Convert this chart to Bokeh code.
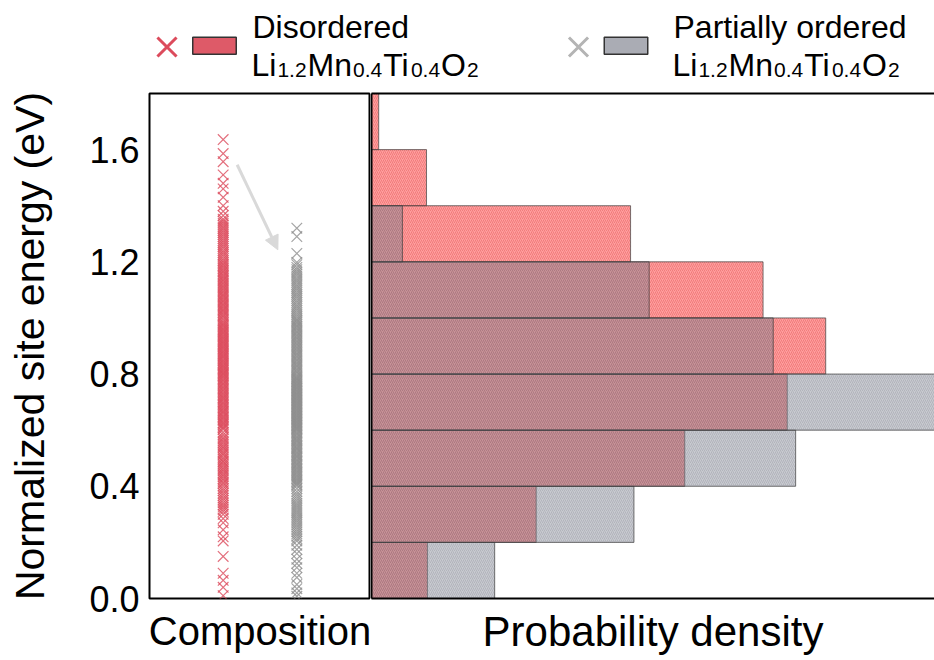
from bokeh.plotting import figure
from bokeh.models import Range1d, FixedTicker, LinearAxis, Arrow, NormalHead, NumeralTickFormatter, Label
from bokeh.layouts import column, row
from bokeh.embed import file_html
from bokeh.resources import INLINE

FONT = "Liberation Sans"

# ---------------- data ----------------
bin_edges = [0.0, 0.2, 0.4, 0.6, 0.8, 1.0, 1.2, 1.4, 1.6, 1.8]
disordered_density = [0.132, 0.389, 0.740, 0.982, 1.073, 0.925, 0.612, 0.130, 0.017]
ordered_density = [0.291, 0.620, 1.002, 1.330, 0.949, 0.656, 0.073, 0.0, 0.0]

disordered_energy = [
    0.01, 0.04, 0.065, 0.09, 0.15,
    0.205, 0.22, 0.245, 0.27, 0.285, 0.30, 0.31, 0.318, 0.326, 0.333, 0.341, 0.35, 0.358, 0.367, 0.375, 0.384, 0.392,
    0.401, 0.409, 0.414, 0.422, 0.428, 0.435, 0.441, 0.447, 0.454, 0.46, 0.466, 0.473, 0.479, 0.486, 0.49, 0.497,
    0.503, 0.511, 0.516, 0.522, 0.529, 0.536, 0.541, 0.548, 0.555, 0.561, 0.568, 0.574, 0.583, 0.592,
    0.603, 0.608, 0.613, 0.619, 0.624, 0.628, 0.634, 0.639, 0.645, 0.649, 0.655, 0.661, 0.666, 0.67, 0.676, 0.681,
    0.687, 0.692, 0.697, 0.702, 0.708, 0.713, 0.717, 0.723, 0.728, 0.733, 0.739, 0.744, 0.749, 0.754, 0.76, 0.765,
    0.769, 0.775, 0.78, 0.785, 0.79, 0.794, 0.799,
    0.802, 0.806, 0.811, 0.815, 0.82, 0.824, 0.829, 0.833, 0.838, 0.842, 0.847, 0.851, 0.856, 0.861, 0.865, 0.87,
    0.874, 0.879, 0.883, 0.888, 0.892, 0.897, 0.901, 0.906, 0.91, 0.915, 0.919, 0.924, 0.928, 0.933, 0.937, 0.942,
    0.947, 0.951, 0.956, 0.96, 0.965, 0.97, 0.974, 0.979, 0.984, 0.99, 0.996,
    1.003, 1.008, 1.013, 1.019, 1.024, 1.029, 1.034, 1.04, 1.045, 1.05, 1.056, 1.061, 1.066, 1.072, 1.077, 1.082,
    1.087, 1.093, 1.098, 1.104, 1.109, 1.114, 1.12, 1.125, 1.131, 1.136, 1.141, 1.147, 1.152, 1.158, 1.164, 1.169,
    1.175, 1.181, 1.187, 1.192, 1.198,
    1.204, 1.211, 1.219, 1.226, 1.233, 1.24, 1.248, 1.255, 1.262, 1.269, 1.276, 1.283, 1.29, 1.297, 1.304, 1.311,
    1.318, 1.324, 1.331, 1.338, 1.345, 1.352, 1.365, 1.38,
    1.40, 1.43, 1.46, 1.48, 1.51, 1.557, 1.586,
    1.636,
]

ordered_energy = [
    0.008, 0.02, 0.035, 0.05, 0.075, 0.09, 0.11, 0.125, 0.14, 0.16, 0.175, 0.19,
    0.205, 0.213, 0.222, 0.23, 0.238, 0.246, 0.254, 0.262, 0.27, 0.277, 0.284, 0.291, 0.298, 0.305, 0.312, 0.319,
    0.326, 0.333, 0.34, 0.348, 0.356, 0.364, 0.372, 0.381, 0.392,
    0.402, 0.407, 0.412, 0.417, 0.421, 0.426, 0.431, 0.436, 0.441, 0.446, 0.45, 0.455, 0.46, 0.465, 0.47, 0.475,
    0.479, 0.484, 0.489, 0.494, 0.499, 0.504, 0.508, 0.513, 0.518, 0.523, 0.528, 0.533, 0.537, 0.542, 0.547, 0.552,
    0.557, 0.562, 0.566, 0.571, 0.576, 0.581, 0.586, 0.591, 0.596,
    0.601, 0.605, 0.608, 0.612, 0.616, 0.619, 0.623, 0.627, 0.63, 0.634, 0.638, 0.641, 0.645, 0.649, 0.652, 0.656,
    0.66, 0.663, 0.667, 0.671, 0.674, 0.678, 0.682, 0.685, 0.689, 0.693, 0.696, 0.7, 0.704, 0.707, 0.711, 0.715,
    0.718, 0.722, 0.726, 0.729, 0.733, 0.737, 0.74, 0.744, 0.748, 0.751, 0.755, 0.759, 0.762, 0.766, 0.77, 0.773,
    0.777, 0.781, 0.784, 0.788, 0.792, 0.797,
    0.803, 0.808, 0.813, 0.818, 0.824, 0.829, 0.834, 0.839, 0.845, 0.85, 0.855, 0.861, 0.866, 0.871, 0.876, 0.882,
    0.887, 0.892, 0.897, 0.903, 0.908, 0.913, 0.918, 0.924, 0.929, 0.934, 0.939, 0.945, 0.95, 0.955, 0.961, 0.966,
    0.971, 0.976, 0.982, 0.987, 0.992, 0.997,
    1.004, 1.011, 1.018, 1.026, 1.033, 1.04, 1.047, 1.055, 1.062, 1.07, 1.077, 1.084, 1.091, 1.099, 1.106, 1.113,
    1.12, 1.128, 1.135, 1.142, 1.15, 1.157, 1.164, 1.172, 1.18, 1.19, 1.198,
    1.23, 1.29, 1.32,
]

compositions = ["Disordered", "Partially ordered"]
composition_x = [1, 2]
y_ticks = [0.0, 0.4, 0.8, 1.2, 1.6]
formula = [("Li", False), ("1.2", True), ("Mn", False), ("0.4", True),
           ("Ti", False), ("0.4", True), ("O", False), ("2", True)]

RED_MARK = "#dc4b5c"
GRAY_MARK = "#8e8e8e"

# ---------------- legend strip ----------------
LEG_H = 91
leg = figure(width=934, height=LEG_H, x_range=Range1d(0, 934), y_range=Range1d(LEG_H, 0),
             output_backend="svg", toolbar_location=None, min_border=0)
leg.axis.visible = False
leg.grid.visible = False
leg.outline_line_color = None

ADV = {'L': 556, 'i': 222, 'M': 833, 'n': 556, 'T': 611, 'O': 778,
       '0': 556, '1': 556, '2': 556, '4': 556, '.': 278}
ASCENT = 0.905
MAIN_PX, SUB_PX = 32, 21
GAP = 1.0

item_x0 = [166.5, 578.0]
text_x0 = [251.0, 672.0]
mark_cols = [RED_MARK, "#b4b4b4"]
rect_cols = ["#de5a68", "#aaacb4"]

leg.scatter(x=item_x0, y=[46.5, 46.5], marker="x", size=27, line_width=3, line_color=mark_cols)
leg.rect(x=[x + 47.5 for x in item_x0], y=[45.3, 45.3], width=43.5, height=17,
         fill_color=rect_cols, line_color="#333333", line_width=1.5)


def add_text(fig, x, baseline, t, px):
    fig.add_layout(Label(x=x, y=baseline - ASCENT * px, text=t, text_font=FONT,
                         text_font_size=f"{px}px", text_baseline="top", text_align="left",
                         text_color="black"))


for name, x0 in zip(compositions, text_x0):
    add_text(leg, x0 + 1, 37, name, MAIN_PX)
    x = x0
    for t, sub in formula:
        size = SUB_PX if sub else MAIN_PX
        add_text(leg, x, 82 if sub else 75, t, size)
        x += sum(ADV[c] for c in t) / 1000 * size + GAP

# ---------------- main panels ----------------
H = 660 - LEG_H
yr = Range1d(0, 1.8)

left = figure(width=370, height=H, x_range=Range1d(0, 3), y_range=yr,
              output_backend="svg", toolbar_location=None,
              min_border_left=149, min_border_right=0, min_border_top=2, min_border_bottom=62)
left.grid.visible = False
left.outline_line_color = "black"
left.outline_line_width = 2
left.outline_line_alpha = 1

ya = left.yaxis[0]
ya.ticker = FixedTicker(ticks=y_ticks)
ya.formatter = NumeralTickFormatter(format="0.0")
ya.major_tick_line_color = None
ya.minor_tick_line_color = None
ya.major_tick_out = 0
ya.minor_tick_out = 0
ya.axis_line_color = None
ya.major_label_text_font = FONT
ya.major_label_text_font_size = "36px"
ya.major_label_text_color = "black"
ya.major_label_standoff = 10
ya.axis_label = "Normalized site energy (eV)"
ya.axis_label_text_font = FONT
ya.axis_label_text_font_size = "41px"
ya.axis_label_text_font_style = "normal"
ya.axis_label_text_color = "black"
ya.axis_label_standoff = 33

xa = left.xaxis[0]
xa.ticker = FixedTicker(ticks=[])
xa.major_tick_out = 0
xa.minor_tick_out = 0
xa.axis_line_color = None
xa.axis_label = "Composition"
xa.axis_label_text_font = FONT
xa.axis_label_text_font_size = "40px"
xa.axis_label_text_font_style = "normal"
xa.axis_label_text_color = "black"
xa.axis_label_standoff = 10

left.scatter(x=[composition_x[0]] * len(disordered_energy), y=disordered_energy, marker="x",
             size=15, line_color=RED_MARK, line_alpha=0.8, line_width=1.2)
left.scatter(x=[composition_x[1]] * len(ordered_energy), y=ordered_energy, marker="x",
             size=15, line_color=GRAY_MARK, line_alpha=0.8, line_width=1.2)

left.add_layout(Arrow(end=NormalHead(size=14, fill_color="#d9d9d9", line_color="#d9d9d9"),
                      x_start=1.19, y_start=1.546, x_end=1.742, y_end=1.243,
                      line_color="#d9d9d9", line_width=3))

right = figure(width=564, height=H, x_range=Range1d(0, 1.33), y_range=yr,
               output_backend="svg", toolbar_location=None,
               min_border_left=1, min_border_right=0, min_border_top=2, min_border_bottom=62)
right.grid.visible = False
right.outline_line_color = None


def line_only(ax):
    ax.ticker = FixedTicker(ticks=[])
    ax.major_tick_out = 0
    ax.minor_tick_out = 0
    ax.major_tick_in = 0
    ax.minor_tick_in = 0
    ax.major_label_standoff = 0
    ax.axis_line_color = "black"
    ax.axis_line_width = 2


rxa = right.xaxis[0]
rya = right.yaxis[0]
line_only(rya)
line_only(rxa)
rxa.axis_label = "Probability density"
rxa.axis_label_text_font = FONT
rxa.axis_label_text_font_size = "42px"
rxa.axis_label_text_font_style = "normal"
rxa.axis_label_text_color = "black"
rxa.axis_label_standoff = 9

top_ax = LinearAxis()
line_only(top_ax)
right.add_layout(top_ax, "above")

bottoms = bin_edges[:-1]
tops = bin_edges[1:]
right.quad(left=0, right=disordered_density, bottom=bottoms, top=tops,
           fill_color="#ff1a1a", fill_alpha=0.42,
           hatch_pattern="/", hatch_color="#d83a3a", hatch_alpha=0.45, hatch_scale=4, hatch_weight=0.8,
           line_color="#4a4a4a", line_alpha=0.75, line_width=1)

o_idx = [i for i, d in enumerate(ordered_density) if d > 0]
right.quad(left=0, right=[ordered_density[i] for i in o_idx],
           bottom=[bottoms[i] for i in o_idx], top=[tops[i] for i in o_idx],
           fill_color="#7d8090", fill_alpha=0.42,
           hatch_pattern="/", hatch_color="#6c6e78", hatch_alpha=0.3, hatch_scale=4, hatch_weight=0.8,
           line_color="#3a3a3a", line_alpha=0.7, line_width=1)

layout = column(leg, row(left, right, spacing=0), spacing=0)
open("out.html", "w").write(file_html(layout, INLINE))
